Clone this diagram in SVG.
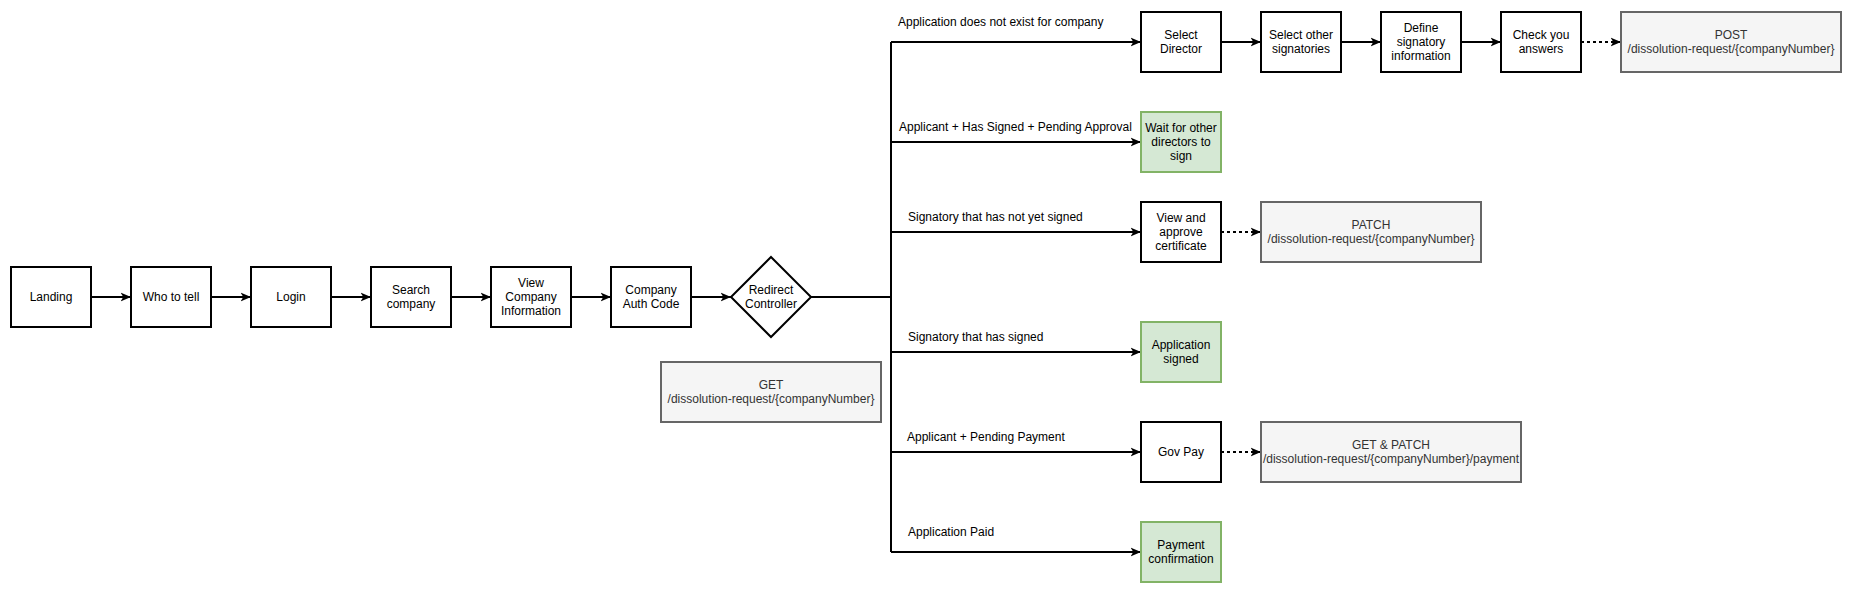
<svg xmlns="http://www.w3.org/2000/svg" width="1854" height="598" viewBox="0 0 1854 598">
<defs>
<style>
text{font-family:"Liberation Sans",Arial,Helvetica,sans-serif;font-size:12px;fill:#000}
.n{fill:#fff;stroke:#000;stroke-width:2}
.g{fill:#d5e8d4;stroke:#82b366;stroke-width:2}
.a{fill:#f5f5f5;stroke:#666;stroke-width:2}
.a + text, .api text{fill:#333}
.c{fill:none;stroke:#000;stroke-width:2}
.d{fill:none;stroke:#000;stroke-width:2;stroke-dasharray:3 3}
.m{text-anchor:middle}
</style>
<marker id="arr" markerUnits="userSpaceOnUse" markerWidth="11" markerHeight="10" viewBox="0 0 11 10" refX="10.5" refY="5" orient="auto">
<path d="M0,0.5 L10.5,5 L0,9.5 L2.8,5 Z" fill="#000"/>
</marker>
</defs>
<rect width="1854" height="598" fill="#fff"/>

<g id="connectors">
<path class="c" d="M91,297 H131" marker-end="url(#arr)"/>
<path class="c" d="M211,297 H251" marker-end="url(#arr)"/>
<path class="c" d="M331,297 H371" marker-end="url(#arr)"/>
<path class="c" d="M451,297 H491" marker-end="url(#arr)"/>
<path class="c" d="M571,297 H611" marker-end="url(#arr)"/>
<path class="c" d="M691,297 H731" marker-end="url(#arr)"/>
<path class="c" d="M811,297 H891"/>
<path class="c" d="M891,42 V552"/>
<path class="c" d="M891,42 H1141" marker-end="url(#arr)"/>
<path class="c" d="M891,142 H1141" marker-end="url(#arr)"/>
<path class="c" d="M891,232 H1141" marker-end="url(#arr)"/>
<path class="c" d="M891,352 H1141" marker-end="url(#arr)"/>
<path class="c" d="M891,452 H1141" marker-end="url(#arr)"/>
<path class="c" d="M891,552 H1141" marker-end="url(#arr)"/>
<path class="c" d="M1221,42 H1261" marker-end="url(#arr)"/>
<path class="c" d="M1341,42 H1381" marker-end="url(#arr)"/>
<path class="c" d="M1461,42 H1501" marker-end="url(#arr)"/>
<path class="d" d="M1581,42 H1621" marker-end="url(#arr)"/>
<path class="d" d="M1221,232 H1261" marker-end="url(#arr)"/>
<path class="d" d="M1221,452 H1261" marker-end="url(#arr)"/>
<text x="898" y="26">Application does not exist for company</text>
<text x="899" y="131">Applicant + Has Signed + Pending Approval</text>
<text x="908" y="221">Signatory that has not yet signed</text>
<text x="908" y="341">Signatory that has signed</text>
<text x="907" y="441">Applicant + Pending Payment</text>
<text x="908" y="536">Application Paid</text>
</g>

<g id="landing"><rect class="n" x="11" y="267" width="80" height="60"/><text class="m" x="51" y="301">Landing</text></g>
<g id="who-to-tell"><rect class="n" x="131" y="267" width="80" height="60"/><text class="m" x="171" y="301">Who to tell</text></g>
<g id="login"><rect class="n" x="251" y="267" width="80" height="60"/><text class="m" x="291" y="301">Login</text></g>
<g id="search-company"><rect class="n" x="371" y="267" width="80" height="60"/><text class="m" x="411" y="294">Search</text><text class="m" x="411" y="308">company</text></g>
<g id="view-company"><rect class="n" x="491" y="267" width="80" height="60"/><text class="m" x="531" y="287">View</text><text class="m" x="531" y="301">Company</text><text class="m" x="531" y="315">Information</text></g>
<g id="auth-code"><rect class="n" x="611" y="267" width="80" height="60"/><text class="m" x="651" y="294">Company</text><text class="m" x="651" y="308">Auth Code</text></g>
<g id="redirect"><path class="n" d="M771,257 L811,297 L771,337 L731,297 Z"/><text class="m" x="771" y="294">Redirect</text><text class="m" x="771" y="308">Controller</text></g>
<g id="get-api" class="api"><rect class="a" x="661" y="362" width="220" height="60"/><text class="m" x="771" y="389">GET</text><text class="m" x="771" y="403">/dissolution-request/{companyNumber}</text></g>

<g id="select-director"><rect class="n" x="1141" y="12" width="80" height="60"/><text class="m" x="1181" y="39">Select</text><text class="m" x="1181" y="53">Director</text></g>
<g id="select-other"><rect class="n" x="1261" y="12" width="80" height="60"/><text class="m" x="1301" y="39">Select other</text><text class="m" x="1301" y="53">signatories</text></g>
<g id="define-signatory"><rect class="n" x="1381" y="12" width="80" height="60"/><text class="m" x="1421" y="32">Define</text><text class="m" x="1421" y="46">signatory</text><text class="m" x="1421" y="60">information</text></g>
<g id="check-answers"><rect class="n" x="1501" y="12" width="80" height="60"/><text class="m" x="1541" y="39">Check you</text><text class="m" x="1541" y="53">answers</text></g>
<g id="post-api" class="api"><rect class="a" x="1621" y="12" width="220" height="60"/><text class="m" x="1731" y="39">POST</text><text class="m" x="1731" y="53">/dissolution-request/{companyNumber}</text></g>

<g id="wait-directors"><rect class="g" x="1141" y="112" width="80" height="60"/><text class="m" x="1181" y="132">Wait for other</text><text class="m" x="1181" y="146">directors to</text><text class="m" x="1181" y="160">sign</text></g>

<g id="view-approve"><rect class="n" x="1141" y="202" width="80" height="60"/><text class="m" x="1181" y="222">View and</text><text class="m" x="1181" y="236">approve</text><text class="m" x="1181" y="250">certificate</text></g>
<g id="patch-api" class="api"><rect class="a" x="1261" y="202" width="220" height="60"/><text class="m" x="1371" y="229">PATCH</text><text class="m" x="1371" y="243">/dissolution-request/{companyNumber}</text></g>

<g id="application-signed"><rect class="g" x="1141" y="322" width="80" height="60"/><text class="m" x="1181" y="349">Application</text><text class="m" x="1181" y="363">signed</text></g>

<g id="gov-pay"><rect class="n" x="1141" y="422" width="80" height="60"/><text class="m" x="1181" y="456">Gov Pay</text></g>
<g id="payment-api" class="api"><rect class="a" x="1261" y="422" width="260" height="60"/><text class="m" x="1391" y="449">GET &amp; PATCH</text><text class="m" x="1391" y="463">/dissolution-request/{companyNumber}/payment</text></g>

<g id="payment-confirmation"><rect class="g" x="1141" y="522" width="80" height="60"/><text class="m" x="1181" y="549">Payment</text><text class="m" x="1181" y="563">confirmation</text></g>
</svg>
